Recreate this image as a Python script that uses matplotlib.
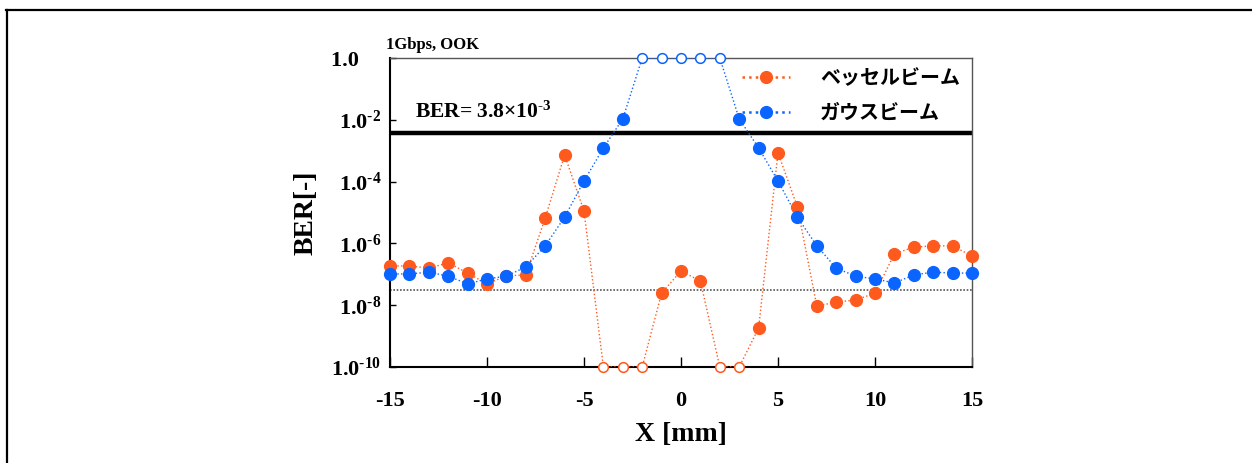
import matplotlib.pyplot as plt
import numpy as np
from matplotlib.lines import Line2D
from matplotlib.ticker import FixedLocator, FuncFormatter

plt.rcParams['font.family'] = ['Liberation Serif', 'Noto Sans CJK JP']
plt.rcParams['font.weight'] = 'bold'
plt.rcParams['axes.unicode_minus'] = False
plt.rcParams['mathtext.fontset'] = 'custom'
plt.rcParams['mathtext.rm'] = 'Liberation Serif:bold'
plt.rcParams['mathtext.bf'] = 'Liberation Serif:bold'
plt.rcParams['mathtext.it'] = 'Liberation Serif:bold'

# data (log10 of BER), x position in mm
x_mm = list(range(-15, 16))
bessel_exp = [-6.73, -6.73, -6.80, -6.63, -6.96, -7.31, -7.05, -7.02, -5.18, -3.14,
              -4.95, -10, -10, -10, -7.61, -6.89, -7.22, -10, -10, -8.74,
              -3.07, -4.82, -8.03, -7.90, -7.83, -7.61, -6.34, -6.12, -6.08, -6.08,
              -6.41]
gauss_exp = [-6.99, -6.99, -6.93, -7.06, -7.31, -7.15, -7.06, -6.76, -6.08, -5.15,
             -3.98, -2.91, -1.97, 0, 0, 0, 0, 0, -1.97, -2.91,
             -3.98, -5.15, -6.08, -6.80, -7.06, -7.15, -7.28, -7.02, -6.93, -6.96,
             -6.96]
# points out of the measurable range (drawn as open circles)
bessel_open = [-4, -3, -2, 2, 3]
gauss_open = [-2, -1, 0, 1, 2]
ber_limit = 3.8e-3
ber_floor = 3e-8

red = '#FF5A1E'
blue = '#0A64FF'

fig = plt.figure(figsize=(12.52, 4.63), dpi=100)
ax = fig.add_axes([390 / 1252, 1 - 367 / 463, 582 / 1252, 309 / 463])

x = np.array(x_mm)
handles = []
for vals, opens, col, name in [(bessel_exp, bessel_open, red, 'ベッセルビーム'),
                               (gauss_exp, gauss_open, blue, 'ガウスビーム')]:
    y = 10.0 ** np.array(vals)
    is_open = np.isin(x, opens)
    ax.plot(x, y, ls=':', lw=1.0, color=col, zorder=3)
    ax.plot(x[~is_open], y[~is_open], ls='none', marker='o', ms=8.5, color=col,
            zorder=4, clip_on=False)
    ax.plot(x[is_open], y[is_open], ls='none', marker='o', ms=7, mfc='white',
            mec=col, mew=1.1, zorder=4, clip_on=False)
    handles.append(Line2D([], [], ls=':', lw=1.8, color=col, marker='o', ms=8.5,
                          label=name))

ax.axhline(ber_limit, color='black', lw=3.2, zorder=2)
ax.axhline(ber_floor, color='#555555', ls=(0, (1, 1)), lw=1.2, zorder=2)

ax.set_yscale('log')
ax.set_xlim(-15, 15)
ax.set_ylim(1e-10, 1)
ax.xaxis.set_major_locator(FixedLocator([-15, -10, -5, 0, 5, 10, 15]))
ax.yaxis.set_major_locator(FixedLocator([10.0 ** e for e in range(-10, 1, 2)]))
ax.yaxis.set_minor_locator(FixedLocator([]))


def ylab(v, pos):
    e = int(round(np.log10(v)))
    if e == 0:
        return '1.0    '
    return '1.0$^{\\text{-%d}}$' % (-e)


ax.yaxis.set_major_formatter(FuncFormatter(ylab))
ax.tick_params(axis='both', direction='in', labelsize=16, width=1)
ax.tick_params(axis='x', length=7, pad=17)
ax.tick_params(axis='y', length=4, pad=6)

for s in ['left', 'bottom']:
    ax.spines[s].set_linewidth(1.5)
    ax.spines[s].set_color('black')
for s in ['top', 'right']:
    ax.spines[s].set_linewidth(1.0)
    ax.spines[s].set_color('#555555')

ax.set_xlabel('X [mm]', fontsize=20, fontweight='bold', labelpad=8)
ax.set_ylabel('BER[-]', fontsize=20, fontweight='bold', labelpad=9)

ax.text(-15.2, 1.5, '1Gbps, OOK', fontsize=12, fontweight='bold', va='bottom')
ax.text(-13.7, 8e-3, 'BER= 3.8$\\times$10$^{\\text{-3}}$', fontsize=15.5,
        fontweight='bold', va='bottom')

leg = ax.legend(handles=handles, loc='upper left', bbox_to_anchor=(0.605, 0.972),
                frameon=False,
                prop={'family': 'Noto Sans CJK JP', 'weight': 'bold', 'size': 14.4},
                handlelength=2.4, handletextpad=1.5, labelspacing=0.7,
                borderaxespad=0, borderpad=0, numpoints=1)

# outer frame lines (top and left) of the screenshot
fig.add_artist(Line2D([6 / 1252, 1], [1 - 10 / 463, 1 - 10 / 463], color='black',
                      lw=1.6, transform=fig.transFigure))
fig.add_artist(Line2D([7 / 1252, 7 / 1252], [0, 1 - 10 / 463], color='black',
                      lw=1.6, transform=fig.transFigure))

fig.savefig('out.png', dpi=100)
